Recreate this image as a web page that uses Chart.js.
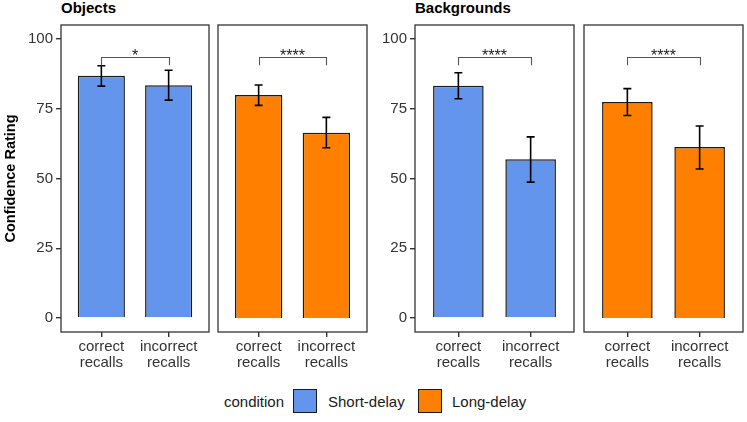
<!DOCTYPE html>
<html><head><meta charset="utf-8">
<script src="https://cdn.jsdelivr.net/npm/chart.js@4.4.1/dist/chart.umd.min.js"></script>
<style>
body{margin:0;background:#fff;width:747px;height:422px;position:relative;overflow:hidden;font-family:"Liberation Sans",Arial,sans-serif;}
canvas{position:absolute;top:0;}
.t{position:absolute;font-weight:bold;font-size:15px;line-height:16px;color:#000;white-space:nowrap}
.lg{position:absolute;font-size:15px;line-height:16px;color:#1a1a1a;white-space:nowrap}
.box{position:absolute;width:22px;height:22px;border:1px solid #1a1a1a;}
</style></head><body>
<div class="t" style="left:61px;top:0px">Objects</div>
<div class="t" style="left:415px;top:0px">Backgrounds</div>
<canvas id="c1" width="212" height="385" style="left:0px"></canvas>
<canvas id="c2" width="160" height="385" style="left:212px"></canvas>
<canvas id="c3" width="205" height="385" style="left:372px"></canvas>
<canvas id="c4" width="170" height="385" style="left:577px"></canvas>
<div class="lg" style="left:224px;top:394px">condition</div>
<div class="box" id="lb1" style="left:293px;top:389px"></div>
<div class="lg" id="lt1" style="left:328px;top:394px"></div>
<div class="box" id="lb2" style="left:418px;top:389px"></div>
<div class="lg" id="lt2" style="left:452px;top:394px"></div>
<script>
const categories = [['correct','recalls'],['incorrect','recalls']];
const yTicks = [0,25,50,75,100];
const objShortMean = [86.8, 83.4], objShortLo = [83.1, 78.1], objShortHi = [90.4, 88.8];
const objLongMean  = [79.9, 66.4], objLongLo  = [76.2, 61.0], objLongHi  = [83.5, 71.9];
const bgShortMean  = [83.2, 56.9], bgShortLo  = [78.6, 48.7], bgShortHi  = [87.9, 64.9];
const bgLongMean   = [77.4, 61.3], bgLongLo   = [72.6, 53.4], bgLongHi   = [82.2, 68.8];
const sigLabels = ['*','****','****','****'];
const bracketY = 93.6, bracketTip = 90.6;
const seriesNames = ['Short-delay','Long-delay'];
const seriesColors = ['#6495ED','#FF7F00'];
const yTitle = 'Confidence Rating';

const FAM = '"Liberation Sans", Arial, sans-serif';
Chart.defaults.font.family = FAM;

document.getElementById('lb1').style.background = seriesColors[0];
document.getElementById('lb2').style.background = seriesColors[1];
document.getElementById('lt1').textContent = seriesNames[0];
document.getElementById('lt2').textContent = seriesNames[1];

const deco = {
  id: 'deco',
  afterDatasetsDraw(chart, args, o) {
    const ctx = chart.ctx, xs = chart.scales.x, ys = chart.scales.y;
    ctx.save();
    ctx.strokeStyle = '#000'; ctx.lineWidth = 1.6;
    for (let i = 0; i < o.lo.length; i++) {
      const x = xs.getPixelForValue(i + 1);
      const yl = ys.getPixelForValue(o.lo[i]), yh = ys.getPixelForValue(o.hi[i]);
      ctx.beginPath();
      ctx.moveTo(x, yl); ctx.lineTo(x, yh);
      ctx.moveTo(x - 4, yl); ctx.lineTo(x + 4, yl);
      ctx.moveTo(x - 4, yh); ctx.lineTo(x + 4, yh);
      ctx.stroke();
    }
    const x1 = xs.getPixelForValue(1), x2 = xs.getPixelForValue(2);
    const yb = Math.round(ys.getPixelForValue(bracketY)) + 0.5, yt = ys.getPixelForValue(bracketTip);
    ctx.strokeStyle = '#555'; ctx.lineWidth = 1.1;
    ctx.beginPath();
    ctx.moveTo(Math.round(x1) + 0.5, yt); ctx.lineTo(Math.round(x1) + 0.5, yb);
    ctx.lineTo(Math.round(x2) + 0.5, yb); ctx.lineTo(Math.round(x2) + 0.5, yt);
    ctx.stroke();
    ctx.fillStyle = '#222'; ctx.font = '16px ' + FAM;
    ctx.textAlign = 'center'; ctx.textBaseline = 'alphabetic';
    ctx.fillText(o.sig, (x1 + x2) / 2, yb + 3.5);
    const a = chart.chartArea;
    ctx.strokeStyle = '#333'; ctx.lineWidth = 1.3;
    ctx.strokeRect(a.left, a.top, a.right - a.left, a.bottom - a.top);
    ctx.restore();
  }
};

function makePanel(id, mean, lo, hi, color, sig, showY, yWidth, pad, showTitle) {
  new Chart(document.getElementById(id), {
    type: 'bar',
    data: {
      datasets: [{
        data: mean.map((v, i) => ({x: i + 1, y: v})),
        backgroundColor: color,
        borderColor: '#1a1a1a',
        borderWidth: 1.5,
        barPercentage: 0.7,
        categoryPercentage: 1
      }]
    },
    options: {
      responsive: false,
      animation: false,
      devicePixelRatio: 1,
      layout: {padding: pad},
      plugins: {legend: {display: false}, tooltip: {enabled: false}, title: {display: false},
        deco: {lo: lo, hi: hi, sig: sig}},
      scales: {
        x: {
          type: 'linear', min: 0.4, max: 2.6, offset: false,
          afterBuildTicks: s => { s.ticks = [{value: 1}, {value: 2}]; },
          ticks: {callback: v => categories[Math.round(v) - 1], font: {size: 15, lineHeight: 1.07},
            color: '#333', padding: 2, maxRotation: 0, autoSkip: false},
          grid: {display: true, offset: false, drawOnChartArea: false, drawTicks: true, tickLength: 5, color: '#333', lineWidth: 1.4},
          border: {display: false},
          afterFit: s => { s.height = 48; }
        },
        y: {
          min: -5, max: 105, display: showY,
          afterBuildTicks: s => { s.ticks = yTicks.map(v => ({value: v})); },
          ticks: {font: {size: 15}, color: '#333', padding: 3},
          grid: {display: true, offset: false, drawOnChartArea: false, drawTicks: true, tickLength: 5, color: '#333', lineWidth: 1.4},
          border: {display: false},
          title: {display: showTitle, text: yTitle, font: {size: 14.5, weight: 'bold'}, color: '#000', padding: {top: 2, bottom: 0}},
          afterFit: s => { s.width = yWidth; }
        }
      }
    },
    plugins: [deco]
  });
}

makePanel('c1', objShortMean, objShortLo, objShortHi, seriesColors[0], sigLabels[0], true, 61, {left: 0, right: 3, top: 25, bottom: 5}, true);
makePanel('c2', objLongMean, objLongLo, objLongHi, seriesColors[1], sigLabels[1], false, 0, {left: 6, right: 5, top: 25, bottom: 5}, false);
makePanel('c3', bgShortMean, bgShortLo, bgShortHi, seriesColors[0], sigLabels[2], true, 43, {left: 0, right: 3, top: 25, bottom: 5}, false);
makePanel('c4', bgLongMean, bgLongLo, bgLongHi, seriesColors[1], sigLabels[3], false, 0, {left: 7, right: 4, top: 25, bottom: 5}, false);
</script>
</body></html>
